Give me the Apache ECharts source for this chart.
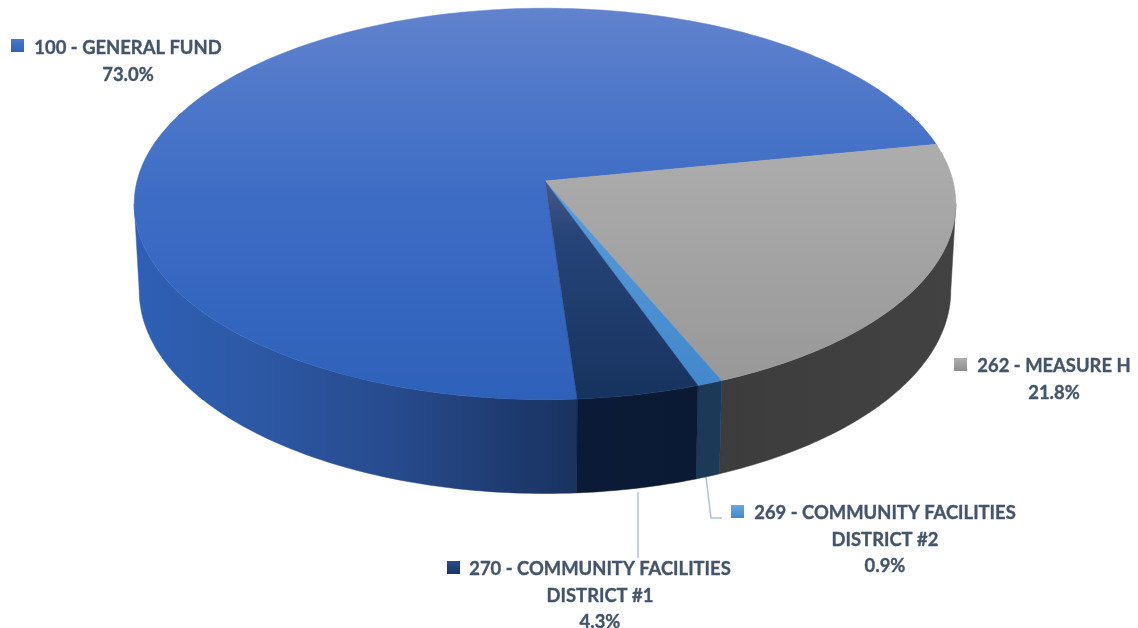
<!DOCTYPE html>
<html><head><meta charset="utf-8">
<style>html,body{margin:0;padding:0;background:#fff}#c{width:1138px;height:628px}</style>
<script src="https://cdn.jsdelivr.net/npm/echarts@6/dist/echarts.min.js"></script>
</head><body><div id="c"></div>
<script>
const categories = ['100 - GENERAL FUND', '262 - MEASURE H', '269 - COMMUNITY FACILITIES\nDISTRICT #2', '270 - COMMUNITY FACILITIES\nDISTRICT #1'];
const shares = [73.0, 21.8, 0.9, 4.3];

const startAngle = 176;
const top3d = {cx: 545, cy: 181, A: 408, B: 193, p: 0.117};
const bot3d = {cx: 545, cy: 267, A: 403, B: 200, p: 0.117};
const visFrom = 96.7, visTo = 263.3;

function vg(y1, y2, stops){return {type:'linear',x:0,y:y1,x2:0,y2:y2,global:true,colorStops:stops.map(s=>({offset:s[0],color:s[1]}))};}
function hg(x1, x2, stops){return {type:'linear',x:x1,y:0,x2:x2,y2:0,global:true,colorStops:stops.map(s=>({offset:s[0],color:s[1]}))};}
const topFill = [
  vg(8,400,[[0,'#6283cd'],[0.25,'#4c76c9'],[0.5,'#3d6cc5'],[1,'#2e61b9']]),
  vg(143,383,[[0,'#adadad'],[1,'#989898']]),
  vg(181,386,[[0,'#5a9cdc'],[1,'#4288cc']]),
  vg(181,400,[[0,'#46598a'],[0.25,'#264478'],[1,'#16335f']])
];
const sideFill = [
  hg(133,578,[[0,'#2f60b6'],[0.3,'#2c57a3'],[0.6,'#274a8c'],[0.85,'#1e3b70'],[1,'#19325f']]),
  hg(720,955,[[0,'#3c3c3c'],[0.6,'#404040'],[1,'#424242']]),
  hg(697,720,[[0,'#1c3a58'],[1,'#1c3a58']]),
  hg(578,697,[[0,'#0b1a36'],[1,'#0a1a34']])
];
const markerFill = [
  ['#4a78cc','#2e61b9'], ['#b0b0b0','#8c8c8c'], ['#6aa8e2','#4288cc'], ['#2c4c88','#173566']
];

function proj(c, deg){
  const t = deg * Math.PI / 180, u = Math.sin(t), v = Math.cos(t), s = 1 + c.p * v;
  return [c.cx + c.A * u / s, c.cy - c.B * v / s];
}
function arc(c, a, b){
  const n = Math.max(2, Math.ceil(Math.abs(b - a))), pts = [];
  for (let i = 0; i <= n; i++) pts.push(proj(c, a + (b - a) * i / n));
  return pts;
}
const total = shares.reduce((a, b) => a + b, 0);
const ranges = [];
shares.reduce((acc, v) => { const e = acc + v / total * 360; ranges.push([acc, e]); return e; }, startAngle);

function renderSide(params){
  const i = params.dataIndex, r = ranges[i];
  const off = r[0] >= 360 ? 360 : 0;
  const a = Math.max(r[0] - off, visFrom), b = Math.min(r[1] - off, visTo);
  if (b <= a) return {type:'group',children:[]};
  const pts = arc(top3d, a, b).concat(arc(bot3d, a, b).reverse());
  return {type:'polygon',shape:{points:pts},style:{fill:sideFill[i],stroke:sideFill[i],lineWidth:0.5}};
}
function renderTop(params){
  const i = params.dataIndex, r = ranges[i];
  const pts = [[top3d.cx, top3d.cy]].concat(arc(top3d, r[0], r[1]));
  return {type:'polygon',shape:{points:pts},style:{fill:topFill[i],stroke:topFill[i],lineWidth:0.5}};
}

const labelPos = [
  {x:128, y:35, mx:11, my:39},
  {x:1054, y:353, mx:954, my:358},
  {x:885, y:500, mx:731, my:505},
  {x:600, y:556, mx:447, my:561}
];
const graphics = [];
[[[638,492],[638,558]], [[706,477],[711,518],[722,518]]].forEach(p => graphics.push({
  type:'polyline', shape:{points:p}, style:{stroke:'#b4c0d6',lineWidth:1.5,fill:null}, silent:true
}));
categories.forEach((name, i) => {
  const L = labelPos[i];
  graphics.push({type:'text', x:L.x, y:L.y, style:{
    text: name + '\n' + shares[i].toFixed(1) + '%',
    font:'bold 18.4px Lato', fill:'#44546a', stroke:'#44546a', lineWidth:0.35, align:'center', verticalAlign:'top', lineHeight:26.5
  }});
  graphics.push({type:'rect', shape:{x:L.mx,y:L.my,width:13,height:13}, style:{
    fill: vg(L.my, L.my+13, [[0,markerFill[i][0]],[1,markerFill[i][1]]])
  }});
});

const chart = echarts.init(document.getElementById('c'), null, {renderer:'canvas'});
chart.setOption({
  animation:false,
  backgroundColor:'#ffffff',
  graphic:{elements:graphics},
  series:[
    {type:'custom',coordinateSystem:'none',renderItem:renderSide,data:shares,z:1,silent:true},
    {type:'custom',coordinateSystem:'none',renderItem:renderTop,data:shares,z:2,silent:true}
  ]
});
</script></body></html>
